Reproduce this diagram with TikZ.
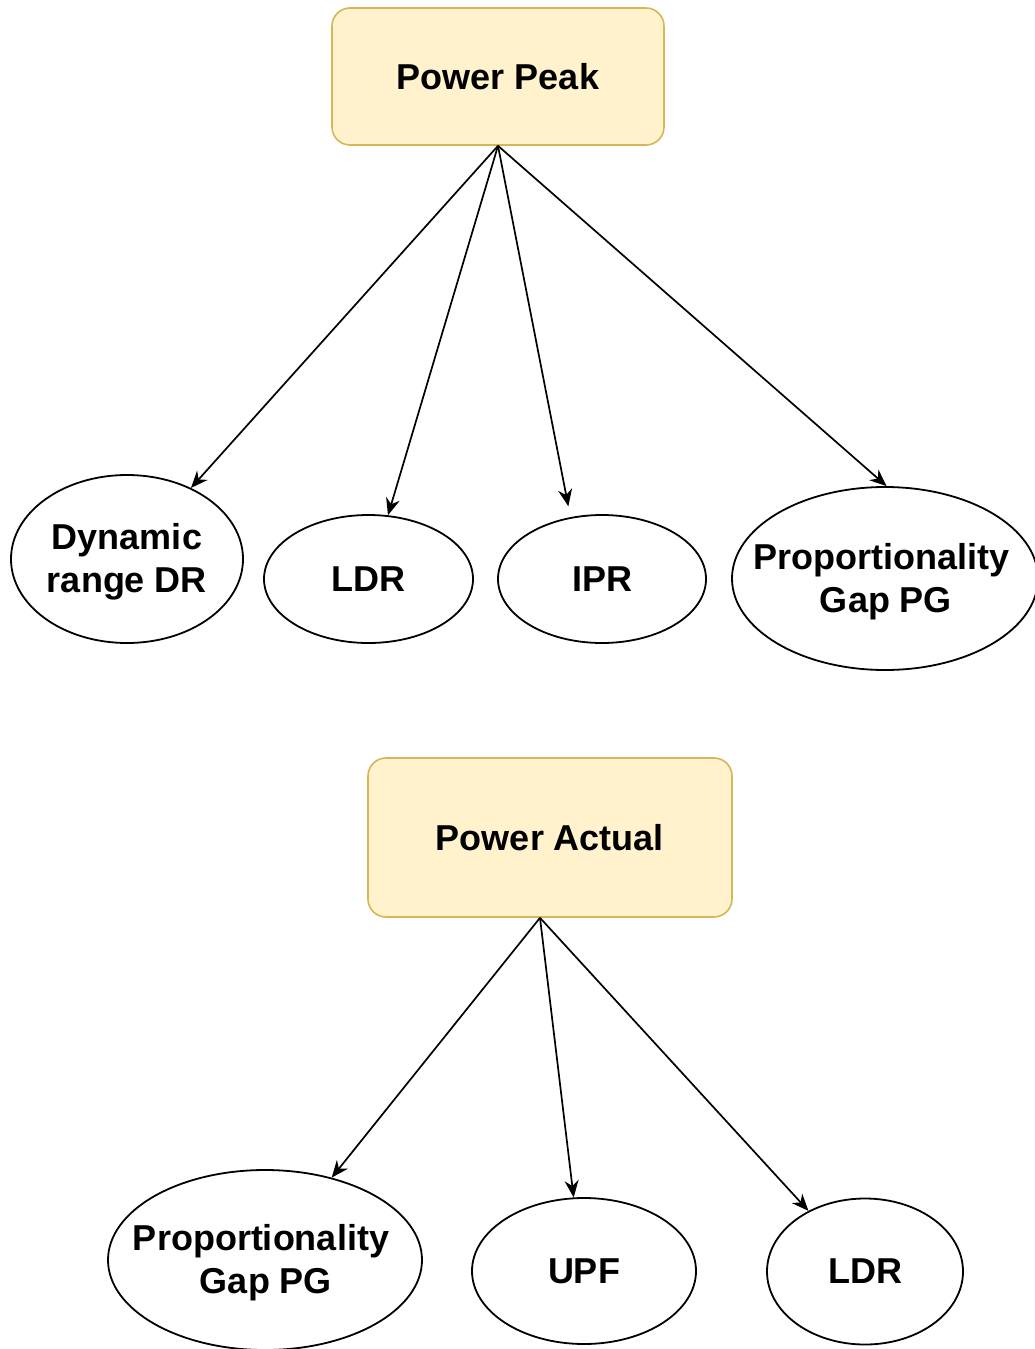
\documentclass[tikz,border=0pt]{standalone}
\usepackage{fontspec}
\setmainfont{Liberation Sans}
\usetikzlibrary{shapes.geometric,arrows.meta}
\definecolor{boxfill}{HTML}{FFF2CC}
\definecolor{boxline}{HTML}{D6B656}
\begin{document}
\begin{tikzpicture}[x=1pt,y=-1pt,
  lbl/.style={font=\fontsize{36}{43}\selectfont\bfseries, align=center, text=black, inner sep=0pt},
  rootbox/.style={lbl, draw=boxline, fill=boxfill, line width=1.6pt,
    rounded corners=18pt},
  leaf/.style={ellipse, draw=black, line width=1.8pt, inner sep=0pt},
  link/.style={draw=black, line width=1.7pt,
    -{Stealth[length=17pt, width=14pt, inset=5.5pt]}}]
\useasboundingbox (0,0) rectangle (1035,1349);

% upper tree
\node[rootbox, minimum width=332pt, minimum height=137pt] (peak) at (498,76.5) {Power Peak};
\node[leaf, minimum width=232pt, minimum height=168pt] (dr)  at (127,559)   {};
\node[leaf, minimum width=209pt, minimum height=128pt] (ldr) at (368.5,579) {};
\node[leaf, minimum width=208pt, minimum height=128pt] (ipr) at (602,579)   {};
\node[leaf, minimum width=306pt, minimum height=183pt] (pg)  at (885,578.5) {};
\node[lbl] (dr-t)  at ([yshift=-3pt]dr)  {Dynamic\\range DR};
\node[lbl] (ldr-t) at (ldr) {LDR};
\node[lbl] (ipr-t) at (ipr) {IPR};
\node[lbl] (pg-t)  at ([xshift=-4pt,yshift=-3pt]pg) {Proportionality\\\hspace*{10pt}Gap PG};

\draw[link] (peak.south) -- (dr.48.8);
\draw[link] (peak.south) -- (ldr.73.5);
\draw[link, shorten >=11pt] (peak.south) -- (ipr.117);
\draw[link] (peak.south) -- (pg.89);

% lower tree
\node[rootbox, minimum width=364pt, minimum height=159pt] (actual) at (550,837.5) {Power Actual};
\node[leaf, minimum width=314pt, minimum height=180pt] (pgb)  at (265,1260) {};
\node[leaf, minimum width=224pt, minimum height=146pt] (upf)  at (584,1271) {};
\node[leaf, minimum width=196pt, minimum height=146pt] (ldrb) at (865,1271.5) {};
\node[lbl] (pgb-t)  at ([xshift=-4pt,yshift=-3pt]pgb) {Proportionality\\\hspace*{10pt}Gap PG};
\node[lbl] (upf-t)  at (upf)  {UPF};
\node[lbl] (ldrb-t) at (ldrb) {LDR};

\coordinate (fork) at ([xshift=-10pt]actual.south);
\draw[link] (fork) -- (pgb.51.5);
\draw[link] (fork) -- (upf.98);
\draw[link] (fork) -- (ldrb.133);
\end{tikzpicture}
\end{document}
